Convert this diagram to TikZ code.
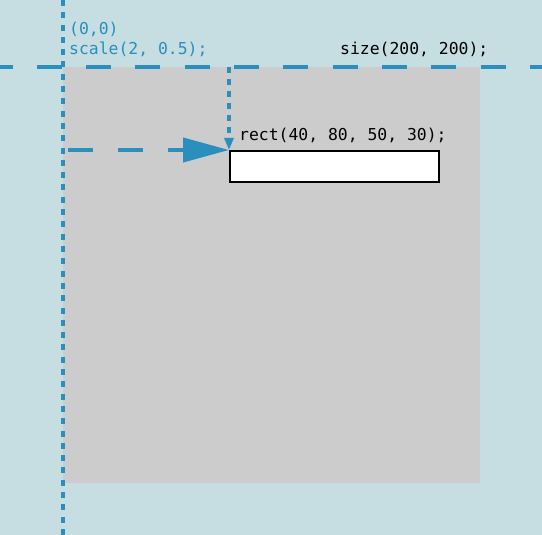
\documentclass[tikz,border=0pt]{standalone}
\usepackage{fontspec}
\setmonofont{DejaVu Sans Mono}
\usetikzlibrary{arrows.meta}
\definecolor{bgblue}{HTML}{C6DDE2}
\definecolor{guideblue}{HTML}{2A8FBD}
\definecolor{canvasgrey}{HTML}{CCCCCC}
\tikzset{
  code/.style={font=\ttfamily\fontsize{16.4}{20}\selectfont, inner sep=0pt, anchor=base west},
  guide/.style={draw=guideblue, line width=4pt},
}

\begin{document}
\begin{tikzpicture}[x=1pt, y=-1pt]
    \fill[bgblue] (0,0) rectangle (542,535);
    \useasboundingbox (0,0) rectangle (542,535);

    \node[fill=canvasgrey, inner sep=0pt, minimum width=417pt, minimum height=416pt, anchor=north west] (canvas) at (63,67) {};
    \node[draw=black, fill=white, line width=1.8pt, inner sep=0pt, minimum width=209pt, minimum height=31pt, anchor=north west] (rectbox) at (229,150) {};

    \draw[guide, dash pattern=on 6pt off 6.3pt] (63,0) -- (63,535);
    \draw[guide, dash pattern=on 25pt off 24.3pt] (-12.5,67) -- (542,67);

    \coordinate (xstart) at ([xshift=5pt]canvas.west |- rectbox.north west);
    \coordinate (ystart) at (rectbox.north west |- canvas.north);
    \draw[guide, dash pattern=on 25pt off 25pt, -{Triangle[length=46pt, width=24pt]}] (xstart) -- (rectbox.north west);
    \draw[guide, dash pattern=on 6pt off 6pt, -{Triangle[length=12pt, width=9pt]}] (ystart) -- (rectbox.north west);

    \node[code, text=guideblue] (origin) at (69,35) {(0,0)};
    \node[code, text=guideblue] (scale) at (69,55) {scale(2, 0.5);};
    \node[code] (size) at (340,55) {size(200, 200);};
    \node[code] (rectlabel) at (239,141) {rect(40, 80, 50, 30);};
\end{tikzpicture}
\end{document}
